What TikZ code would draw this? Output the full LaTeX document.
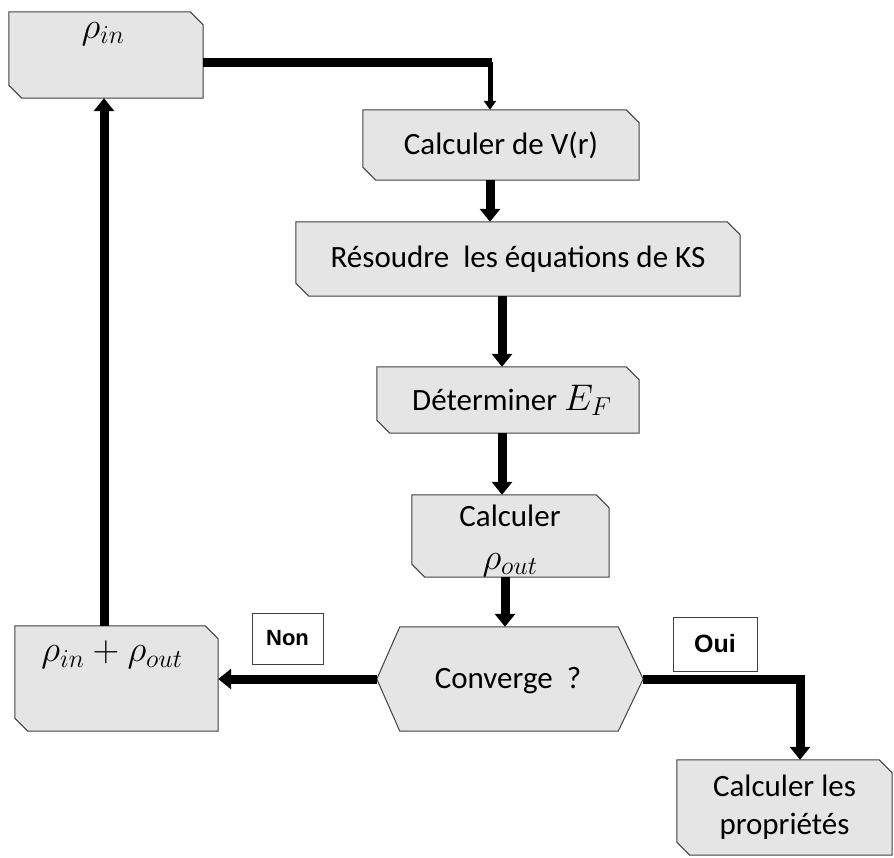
\RequirePackage{fix-cm}
\documentclass[tikz,border=0pt]{standalone}
\usepackage{fontspec}
\setmainfont{Carlito}
\newfontfamily\labfont{Liberation Sans}
\usetikzlibrary{arrows.meta,backgrounds}
\definecolor{boxfill}{HTML}{E5E5E5}
\definecolor{boxline}{HTML}{404040}
\newcommand\snipbox[1]{%
  \draw[draw=boxline, fill=boxfill, line width=1pt]
    (#1.north west) -- ([xshift=-13pt]#1.north east) -- ([yshift=-13pt]#1.north east)
    -- (#1.south east) -- ([xshift=13pt]#1.south west) -- ([yshift=13pt]#1.south west) -- cycle;}
\tikzset{
  box/.style={rectangle, inner sep=0pt, align=center, font=\fontsize{31}{38}\selectfont},
  txt/.style={font=\fontsize{31}{38}\selectfont, inner sep=0pt},
  mth/.style={font=\fontsize{37}{40}\selectfont, inner sep=0pt},
  tag/.style={draw=boxline, fill=white, line width=1pt, inner sep=0pt, font=\labfont\bfseries},
  flow/.style={line width=9pt, -{Triangle[width=20pt,length=13pt]}},
  thin/.style={line width=5pt, -{Triangle[width=12pt,length=9pt]}},
  seg/.style={line width=9pt}
}
\begin{document}
\begin{tikzpicture}[x=1pt,y=-1pt]
\useasboundingbox (0,0) rectangle (894,857);
\node[box, minimum width=194pt, minimum height=86pt] (rin) at (106,55) {};
\node[mth] (rinl) at (103,34) {$\rho_{in}$};
\node[box, minimum width=276pt, minimum height=70pt] (vr) at (501,145) {Calculer de V(r)};
\node[box, minimum width=444pt, minimum height=74pt] (ks) at (518,259) {Résoudre\ \ les équations de KS};
\node[box, minimum width=262pt, minimum height=66pt] (ef) at (508,400) {};
\node[txt, anchor=base west] (efl) at (412,410) {Déterminer \fontsize{37}{40}\selectfont$E_F$};
\node[box, minimum width=197pt, minimum height=82pt] (rout) at (510.5,536) {};
\node[txt] (routa) at (510,516) {Calculer};
\node[mth] (routb) at (510,565) {$\rho_{out}$};
\node[minimum width=266pt, minimum height=104pt, inner sep=0pt] (conv) at (510,679) {};
\node[txt] (convl) at (508,681) {Converge\ \ ?};
\node[box, minimum width=203pt, minimum height=105pt] (sum) at (116.5,678.5) {};
\node[mth] (suml) at (112,655) {$\rho_{in}+\rho_{out}$};
\node[box, minimum width=215pt, minimum height=95pt] (props) at (784.5,807.5) {Calculer les\\propriétés};
\node[tag, minimum width=71pt, minimum height=51pt, font=\labfont\bfseries\fontsize{22}{24}\selectfont] (non) at (287.5,638.5) {Non};
\node[tag, minimum width=84pt, minimum height=54pt, font=\labfont\bfseries\fontsize{25}{30}\selectfont] (oui) at (715,644) {Oui};
\begin{scope}[on background layer]
\snipbox{rin}\snipbox{vr}\snipbox{ks}\snipbox{ef}\snipbox{rout}\snipbox{sum}\snipbox{props}
\draw[draw=boxline, fill=boxfill, line width=1pt]
  (conv.west) -- ([xshift=23pt]conv.north west) -- ([xshift=-25pt]conv.north east)
  -- (conv.east) -- ([xshift=-25pt]conv.south east) -- ([xshift=23pt]conv.south west) -- cycle;
\end{scope}
\coordinate (c1) at (490,62);
\coordinate (c2) at (800,679);
\draw[seg] (rin.east |- c1) -- ([xshift=2pt]c1);
\draw[thin] (c1) -- (c1 |- vr.north);
\draw[flow] (vr.south -| 490,0) -- (ks.north -| 490,0);
\draw[flow] (ks.south -| 502,0) -- (ef.north -| 502,0);
\draw[flow] (ef.south -| 502,0) -- (rout.north -| 502,0);
\draw[flow] (rout.south -| 505,0) -- (conv.north -| 505,0);
\draw[flow] (conv.west) -- (sum.east |- conv.west);
\draw[seg] (conv.east) -- ([xshift=4.5pt]c2);
\draw[flow] (c2) -- (c2 |- props.north);
\draw[flow] (sum.north -| 104,0) -- (rin.south -| 104,0);
\end{tikzpicture}
\end{document}
